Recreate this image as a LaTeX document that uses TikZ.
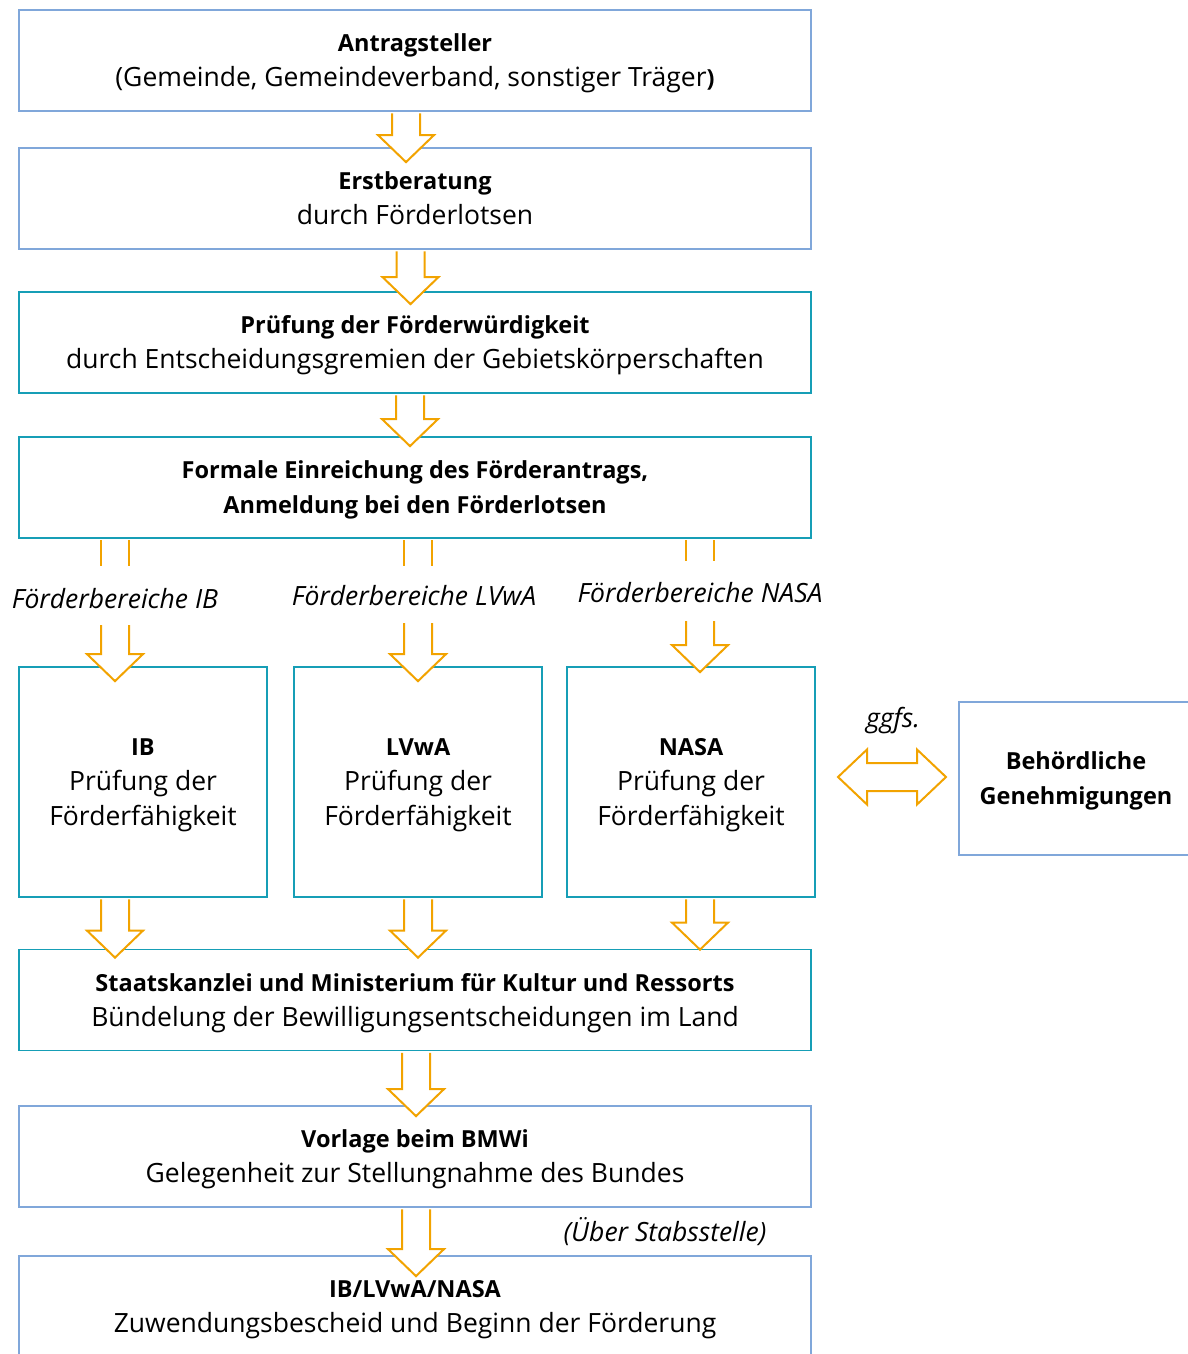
\documentclass[tikz,border=0pt]{standalone}
\usepackage{fontspec}
\setmainfont{Open Sans}
\usetikzlibrary{calc}

\definecolor{boxblue}{RGB}{128,167,218}
\definecolor{boxteal}{RGB}{22,158,182}
\definecolor{arrorange}{RGB}{242,163,0}

% bold heading line
\newcommand{\hd}[1]{{\fontsize{23.5}{35}\selectfont\bfseries #1}}
% hollow arrow pointing down, from #1 to tip #2
\newcommand{\blockdown}[2]{%
  \draw[blockarr] let \p1=(#1), \p2=(#2) in
    (\x1-14pt,\y1) -- (\x1-14pt,\y2+27pt) -- (\x1-28pt,\y2+27pt) -- (\x1,\y2)
    -- (\x1+28pt,\y2+27pt) -- (\x1+14pt,\y2+27pt) -- (\x1+14pt,\y1);}
% shaft stub only
\newcommand{\stubdown}[2]{%
  \draw[blockarr, fill=none] let \p1=(#1), \p2=(#2) in
    (\x1-14pt,\y1) -- (\x1-14pt,\y2) (\x1+14pt,\y1) -- (\x1+14pt,\y2);}

\begin{document}
\begin{tikzpicture}[x=1pt, y=-1pt,
    box/.style={draw, line width=1.8pt, fill=white, align=center,
      minimum width=792pt, minimum height=101pt, inner sep=0pt, text depth=0pt,
      font=\fontsize{26.5}{35}\selectfont},
    smallbox/.style={box, draw=boxteal, minimum width=248pt, minimum height=230pt},
    lbl/.style={font=\fontsize{26.5}{35}\selectfont\itshape, inner sep=0pt},
    blockarr/.style={draw=arrorange, line width=2pt, fill=white, line join=miter}]
  \useasboundingbox (0,0) rectangle (1187,1354);

  \node[box, draw=boxblue] (antrag) at (415,60.5)
    {\hd{Antragsteller}\\(Gemeinde, Gemeindeverband, sonstiger Träger\hd{)}};
  \node[box, draw=boxblue] (erst) at (415,198.5)
    {\hd{Erstberatung}\\durch Förderlotsen};
  \node[box, draw=boxteal] (pruef) at (415,342.5)
    {\hd{Prüfung der Förderwürdigkeit}\\durch Entscheidungsgremien der Gebietskörperschaften};
  \node[box, draw=boxteal] (formal) at (415,487.5)
    {\hd{Formale Einreichung des Förderantrags,}\\\hd{Anmeldung bei den Förderlotsen}};

  \node[smallbox] (ib) at (143,782) {\hd{IB}\\Prüfung der\\Förderfähigkeit};
  \node[smallbox] (lvwa) at (418,782) {\hd{LVwA}\\Prüfung der\\Förderfähigkeit};
  \node[smallbox] (nasa) at (691,782) {\hd{NASA}\\Prüfung der\\Förderfähigkeit};
  \node[box, draw=boxblue, minimum width=234pt, minimum height=153pt] (behoerde) at (1076,778.5)
    {\hd{Behördliche}\\\hd{Genehmigungen}};

  \node[box, draw=boxteal] (staats) at (415,1000)
    {\hd{Staatskanzlei und Ministerium für Kultur und Ressorts}\\Bündelung der Bewilligungsentscheidungen im Land};
  \node[box, draw=boxblue] (vorlage) at (415,1156.5)
    {\hd{Vorlage beim BMWi}\\Gelegenheit zur Stellungnahme des Bundes};
  \node[box, draw=boxblue] (bescheid) at (415,1306.5)
    {\hd{IB/LVwA/NASA}\\Zuwendungsbescheid und Beginn der Förderung};

  \node[lbl] (fbib) at (115,599) {Förderbereiche IB};
  \node[lbl] (fblvwa) at (414,596) {Förderbereiche LVwA};
  \node[lbl] (fbnasa) at (700,593) {Förderbereiche NASA};
  \node[lbl] (ggfs) at (893,721) {ggfs.};
  \node[lbl] (stabs) at (665,1232) {(Über Stabsstelle)};

  % main column
  \blockdown{$(antrag.south)+(-9,1.5)$}{$(erst.north)+(-9,15)$}
  \blockdown{$(erst.south)+(-4.5,1.5)$}{$(pruef.north)+(-4.5,13)$}
  \blockdown{$(pruef.south)+(-5,1.5)$}{$(formal.north)+(-5,10)$}

  % split into the three areas
  \stubdown{$(ib.north |- formal.south)+(-28,1.5)$}{$(ib.north |- formal.south)+(-28,27)$}
  \blockdown{$(ib.north)+(-28,-41)$}{$(ib.north)+(-28,15)$}
  \stubdown{$(lvwa.north |- formal.south)+(0,1.5)$}{$(lvwa.north |- formal.south)+(0,27)$}
  \blockdown{$(lvwa.north)+(0,-43)$}{$(lvwa.north)+(0,15)$}
  \stubdown{$(nasa.north |- formal.south)+(9,1.5)$}{$(nasa.north |- formal.south)+(9,22)$}
  \blockdown{$(nasa.north)+(9,-45)$}{$(nasa.north)+(9,6)$}

  \blockdown{$(ib.south)+(-28,1.5)$}{$(ib.south |- staats.north)+(-28,9)$}
  \blockdown{$(lvwa.south)+(0,1.5)$}{$(lvwa.south |- staats.north)+(0,9)$}
  \blockdown{$(nasa.south)+(9,1.5)$}{$(nasa.south |- staats.north)+(9,1)$}

  \blockdown{$(staats.south)+(1,1.5)$}{$(vorlage.north)+(1,11)$}
  \blockdown{$(vorlage.south)+(1,1.5)$}{$(bescheid.north)+(1,21)$}

  % ggfs. double arrow
  \coordinate (dl) at (838,777);
  \coordinate (dr) at (946,777);
  \draw[blockarr] let \p1=(dl), \p2=(dr) in
    (\p1) -- (\x1+29pt,\y1+27.5pt) -- (\x1+29pt,\y1+14pt) -- (\x2-29pt,\y1+14pt)
    -- (\x2-29pt,\y1+27.5pt) -- (\p2) -- (\x2-29pt,\y1-27.5pt) -- (\x2-29pt,\y1-14pt)
    -- (\x1+29pt,\y1-14pt) -- (\x1+29pt,\y1-27.5pt) -- cycle;
\end{tikzpicture}
\end{document}
